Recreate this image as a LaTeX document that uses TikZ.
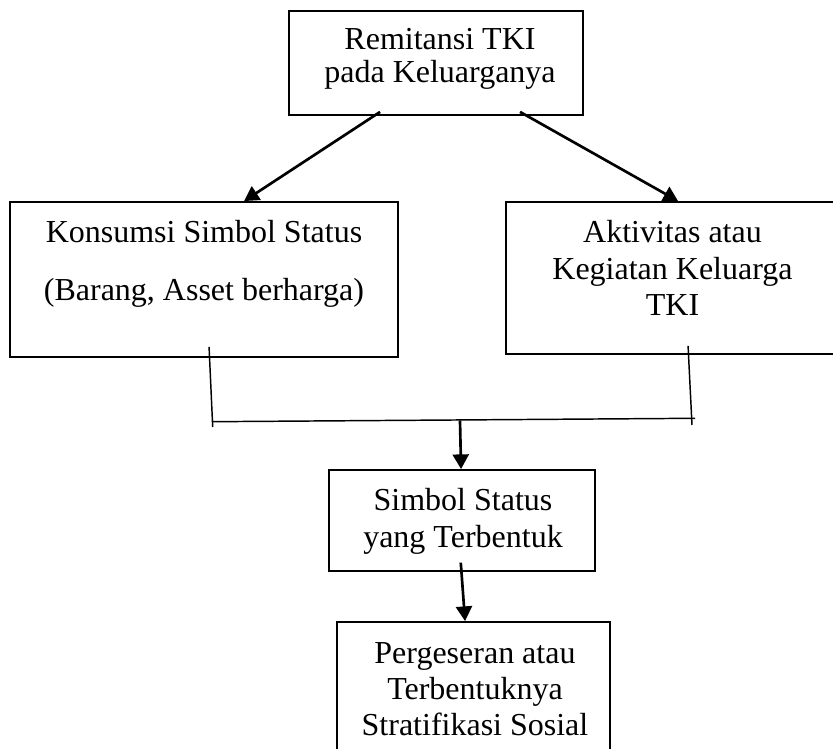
\documentclass[tikz,border=0pt]{standalone}
\usepackage{fontspec}
\setmainfont{Liberation Serif}
\usetikzlibrary{fit,calc,arrows.meta}
\begin{document}
\begin{tikzpicture}[x=0.75pt,y=-0.75pt,
  box/.style={draw,line width=1.4pt,inner sep=0pt},
  txt/.style={align=center,inner sep=0pt,anchor=north},
  arr/.style={line width=2pt,-{Triangle[length=11pt,width=12pt]}},
  brk/.style={line width=1.1pt}]
\useasboundingbox (0,0) rectangle (833,749);
% boxes
\node[box,fit={(289,11)(583,115)}] (top) {};
\node[box,fit={(10,202)(398,357)}] (left) {};
\node[box,fit={(506,202)(845,354)}] (right) {};
\node[box,fit={(329,470)(595,571)}] (mid) {};
\node[box,fit={(337,622)(610,790)}] (bot) {};
% texts
\node[txt,font=\fontsize{24}{24.75}\selectfont] (ttop) at (440,28.5) {Remitansi TKI\\pada Keluarganya};
\node[txt,font=\fontsize{24}{43.5}\selectfont] (tleft) at (204,220.5) {Konsumsi Simbol Status\\(Barang, Asset berharga)};
\node[txt,font=\fontsize{24}{27.5}\selectfont] (tright) at (672.5,220) {Aktivitas atau\\Kegiatan Keluarga\\TKI};
\node[txt,font=\fontsize{24}{27.5}\selectfont] (tmid) at (463,488.5) {Simbol Status\\yang Terbentuk};
\node[txt,font=\fontsize{24}{26.9}\selectfont] (tbot) at (475,642.5) {Pergeseran atau\\Terbentuknya\\Stratifikasi Sosial};
% arrows from top
\draw[arr] ($(top.south west)+(92,-4)$) -- ($(left.north west)+(235,0)$);
\draw[arr] ($(top.south west)+(232,-4)$) -- ($(right.north west)+(173,0)$);
% bracket
\coordinate (bl) at (212.7,427);
\coordinate (br) at (692,425);
\coordinate (hl) at (212,421.7);
\coordinate (hr) at (695,418.3);
\coordinate (hm) at (460,420.5);
\draw[brk] ($(left.south west)+(200,-11)$) -- (bl);
\draw[brk] ($(right.south west)+(183,-9)$) -- (br);
\draw[brk] (hl) -- (hr);
\draw[arr] (hm) -- ($(mid.north west)+(133,0)$);
\draw[arr] ($(mid.south west)+(132.7,-9.3)$) -- ($(bot.north west)+(129,0)$);
\end{tikzpicture}
\end{document}
